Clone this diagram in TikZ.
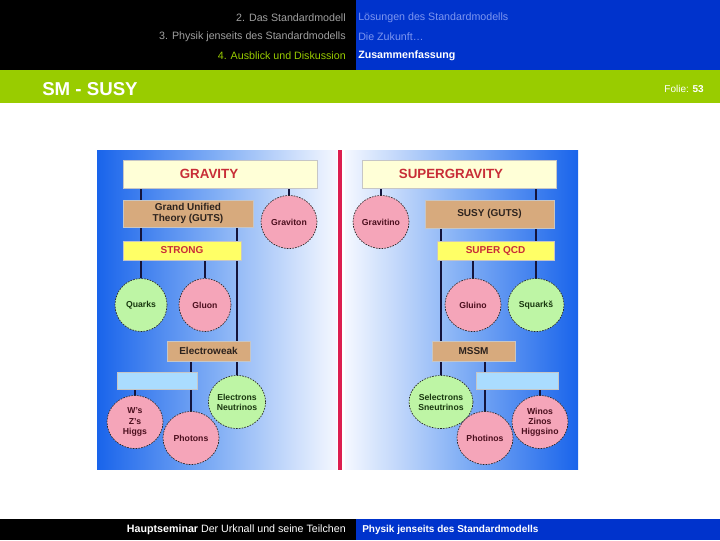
\documentclass[tikz,border=0pt]{standalone}
\usepackage{fontspec}
\setmainfont{Liberation Sans}
\usetikzlibrary{shapes.geometric}
\pgfdeclarelayer{bg}
\pgfdeclarelayer{lines}
\pgfsetlayers{bg,lines,main}
\definecolor{hdrblue}{RGB}{0,51,204}
\definecolor{hdrgreen}{RGB}{153,204,0}
\definecolor{hdrgray}{RGB}{160,160,160}
\definecolor{hdrlight}{RGB}{125,150,240}
\definecolor{panelblue}{RGB}{25,100,235}
\definecolor{panelmid}{RGB}{130,175,245}
\definecolor{panelwhite}{RGB}{245,248,255}
\definecolor{redline}{RGB}{220,30,80}
\definecolor{cream}{RGB}{255,255,215}
\definecolor{tanfill}{RGB}{215,170,125}
\definecolor{yellowfill}{RGB}{255,255,102}
\definecolor{lightbluefill}{RGB}{170,220,255}
\definecolor{pinkfill}{RGB}{245,165,185}
\definecolor{greenfill}{RGB}{190,245,165}
\definecolor{linecol}{RGB}{20,20,60}
\definecolor{redtext}{RGB}{200,45,55}
\definecolor{boxtext}{RGB}{45,35,30}
\definecolor{maroontext}{RGB}{75,15,30}
\definecolor{greentext}{RGB}{25,55,15}
\begin{document}
\begin{tikzpicture}[x=0.75pt,y=-0.75pt,
  box/.style={draw=gray!45, line width=0.4pt, inner sep=0pt, font=\bfseries\fontsize{7.5}{9}\selectfont, text=boxtext},
  bigbox/.style={box, fill=cream, minimum width=145.5pt, minimum height=21pt, font=\bfseries\fontsize{10}{12}\selectfont, text=redtext},
  tanbox/.style={box, fill=tanfill},
  yelbox/.style={box, fill=yellowfill, text=redtext},
  lbbox/.style={box, fill=lightbluefill, minimum height=12.75pt},
  circ/.style={ellipse, draw=black!85, dash pattern=on 1.2pt off 0.9pt, line width=0.5pt, minimum width=42pt, minimum height=39.75pt, inner sep=0pt, align=center, font=\bfseries\fontsize{6.5}{7.6}\selectfont},
  pinkcirc/.style={circ, fill=pinkfill, text=maroontext},
  greencirc/.style={circ, fill=greenfill, text=greentext},
  conn/.style={draw=linecol, line width=1.1pt},
  hdr/.style={font=\fontsize{8}{9}\selectfont, inner sep=0pt}
]
\useasboundingbox (0,0) rectangle (720,540);
% panels
\begin{pgfonlayer}{bg}
\fill[white] (0,0) rectangle (720,540);
\shade[left color=panelblue, right color=panelwhite, middle color=panelmid] (97,150) rectangle (337,469);
\shade[left color=panelwhite, right color=panelblue, middle color=panelmid] (345,150) rectangle (578,469);
\fill[redline] (338,150) rectangle (341.5,470);
\end{pgfonlayer}
% header
\fill[black] (0,0) rectangle (356,70);
\fill[hdrblue] (356,0) rectangle (720,70);
\fill[hdrgreen] (0,70) rectangle (720,103);
\node[hdr, anchor=east, text=hdrgray] (h1) at (346,18) {2. Das Standardmodell};
\node[hdr, anchor=east, text=hdrgray] (h2) at (346,37) {3. Physik jenseits des Standardmodells};
\node[hdr, anchor=east, text=hdrgreen] (h3) at (346,56) {4. Ausblick und Diskussion};
\node[hdr, anchor=west, text=hdrlight] (r1) at (358,18) {Lösungen des Standardmodells};
\node[hdr, anchor=west, text=hdrlight] (r2) at (358,37) {Die Zukunft…};
\node[hdr, anchor=west, text=white, font=\bfseries\fontsize{8}{9}\selectfont] (r3) at (358,56) {Zusammenfassung};
\node[anchor=west, inner sep=0pt, text=white, font=\bfseries\fontsize{14}{16}\selectfont] (title) at (42,89) {SM - SUSY};
\node[anchor=east, inner sep=0pt, text=white, font=\fontsize{7.5}{9}\selectfont] (folie) at (704,89) {Folie: \textbf{53}};
% footer
\fill[black] (0,519) rectangle (356,540);
\fill[hdrblue] (356,519) rectangle (720,540);
\node[anchor=east, inner sep=0pt, text=white, font=\fontsize{8}{9}\selectfont] (f1) at (346,530) {\textbf{Hauptseminar} Der Urknall und seine Teilchen};
\node[anchor=west, inner sep=0pt, text=white, font=\bfseries\fontsize{7.5}{9}\selectfont] (f2) at (362,530) {Physik jenseits des Standardmodells};
% left boxes
\node[bigbox] (grav) at (220,174) {\hspace*{-16.5pt}GRAVITY};
\node[tanbox, minimum width=97.5pt, minimum height=20.25pt, align=center, font=\bfseries\fontsize{7.5}{8.6}\selectfont] (guts) at (188,213.5) {Grand Unified\\Theory (GUTS)};
\node[yelbox, minimum width=88.5pt, minimum height=14.25pt] (strong) at (182,250.5) {STRONG};
\node[tanbox, minimum width=62.25pt, minimum height=15pt] (ew) at (208.5,351) {Electroweak};
\node[lbbox, minimum width=60pt] (lb) at (157,380.5) {};
% left circles
\node[pinkcirc] (graviton) at (289,222) {Graviton};
\node[greencirc, minimum width=39pt] (quarks) at (141,305) {Quarks};
\node[pinkcirc, minimum width=39pt] (gluon) at (205,305) {Gluon};
\node[greencirc] (electrons) at (237,402) {Electrons\\Neutrinos};
\node[pinkcirc] (ws) at (135,422) {W's\\Z's\\Higgs};
\node[pinkcirc] (photons) at (191,438) {Photons};
% right boxes
\node[bigbox] (sgrav) at (459,174) {\hspace*{-12pt}SUPERGRAVITY};
\node[tanbox, minimum width=96.75pt, minimum height=21pt] (susy) at (489.5,214) {SUSY (GUTS)};
\node[yelbox, minimum width=87.75pt, minimum height=14.25pt] (sqcd) at (495.5,250.5) {SUPER QCD};
\node[tanbox, minimum width=62.25pt, minimum height=15pt] (mssm) at (473.5,351) {MSSM};
\node[lbbox, minimum width=61.5pt] (lb2) at (517,380.5) {};
% right circles
\node[pinkcirc] (gravitino) at (381,222) {Gravitino};
\node[pinkcirc] (gluino) at (473,305) {Gluino};
\node[greencirc] (squarks) at (536,305) {Squarkš};
\node[greencirc] (selectrons) at (441,402) {Selectrons\\Sneutrinos};
\node[pinkcirc] (photinos) at (485,438) {Photinos};
\node[pinkcirc] (winos) at (540,422) {Winos\\Zinos\\Higgsino};
% connectors
\begin{pgfonlayer}{lines}
\draw[conn] (grav.south -| quarks) -- (guts.north -| quarks);
\draw[conn] (grav.south -| graviton) -- (graviton.north);
\draw[conn] (guts.south -| quarks) -- (strong.north -| quarks);
\draw[conn] (guts.south -| electrons) -- (ew.north -| electrons);
\draw[conn] (strong.south -| quarks) -- (quarks.north);
\draw[conn] (strong.south -| gluon) -- (gluon.north);
\draw[conn] (ew.south -| electrons) -- (electrons.north);
\draw[conn] (ew.south -| photons) -- (lb.north -| photons);
\draw[conn] (lb.south -| photons) -- (photons.north);
\draw[conn] (lb.south -| ws) -- (ws.north);
\draw[conn] (sgrav.south -| gravitino) -- (gravitino.north);
\draw[conn] (sgrav.south -| squarks) -- (susy.north -| squarks);
\draw[conn] (susy.south -| selectrons) -- (mssm.north -| selectrons);
\draw[conn] (susy.south -| squarks) -- (sqcd.north -| squarks);
\draw[conn] (sqcd.south -| gluino) -- (gluino.north);
\draw[conn] (sqcd.south -| squarks) -- (squarks.north);
\draw[conn] (mssm.south -| selectrons) -- (selectrons.north);
\draw[conn] (mssm.south -| photinos) -- (lb2.north -| photinos);
\draw[conn] (lb2.south -| photinos) -- (photinos.north);
\draw[conn] (lb2.south -| winos) -- (winos.north);
\end{pgfonlayer}
\end{tikzpicture}
\end{document}
